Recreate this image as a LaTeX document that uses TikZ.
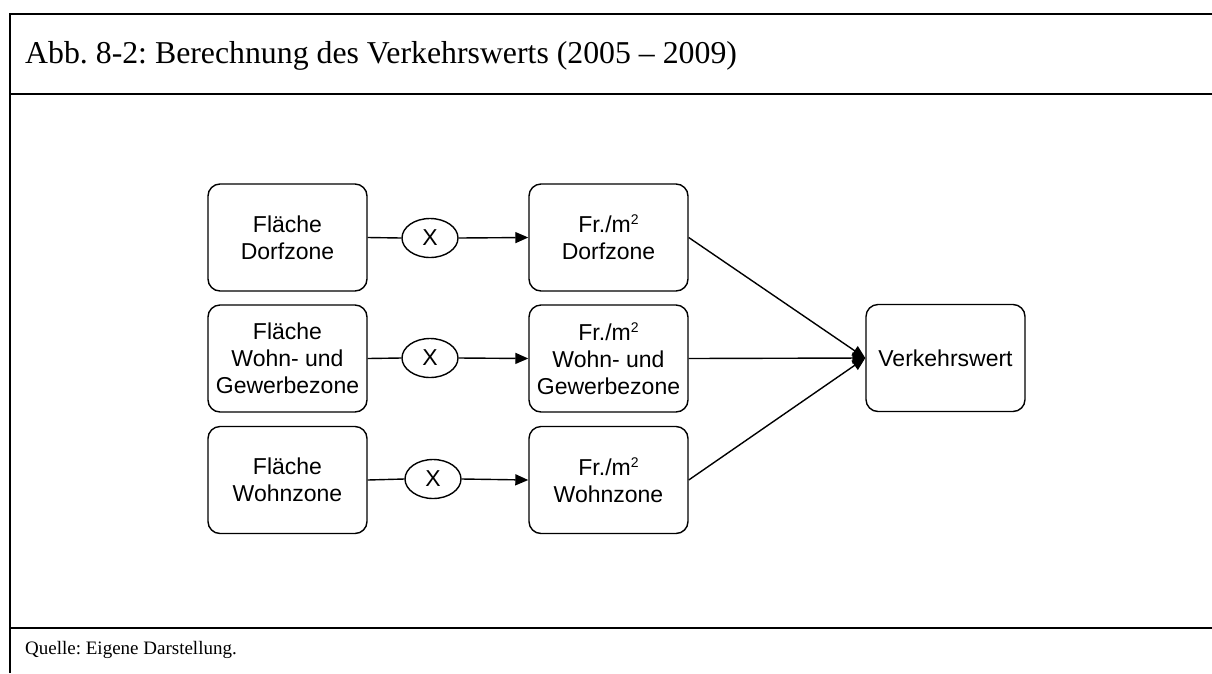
\documentclass[tikz,border=0pt]{standalone}
\usepackage{fontspec}
\setmainfont{Liberation Serif}
\newfontfamily\arialfont{Liberation Sans}
\usetikzlibrary{arrows.meta,shapes.geometric}

\newcommand{\sqm}{m\raisebox{8pt}{\fontsize{14}{14}\selectfont 2}}

\tikzset{
  frameline/.style={line width=2pt},
  box/.style={draw, line width=1.4pt, rounded corners=12pt,
    minimum width=159pt, minimum height=107pt, inner sep=0pt,
    align=center, font=\arialfont\fontsize{23}{27}\selectfont},
  mult/.style={draw, ellipse, line width=1.4pt, minimum width=56pt,
    minimum height=39pt, inner sep=0pt, font=\arialfont\fontsize{23}{27}\selectfont},
  link/.style={line width=1.4pt},
  flow/.style={line width=1.4pt, -{Triangle[length=13pt,width=11pt]}},
}

\begin{document}
\frenchspacing
\begin{tikzpicture}[x=1pt,y=-1pt]
\useasboundingbox (0,0) rectangle (1212,673);

% outer frame with header and source rows
\draw[frameline] (10,673) -- (10,14) -- (1212,14);
\draw[frameline] (10,94) -- (1212,94);
\draw[frameline] (10,628) -- (1212,628);

\node[anchor=base west, inner sep=0pt, font=\fontsize{31.8}{36}\selectfont] (title) at (25,63)
  {Abb. 8-2: Berechnung des Verkehrswerts (2005 -- 2009)};
\node[anchor=base west, inner sep=0pt, font=\fontsize{19}{23}\selectfont] (source) at (25,654)
  {Quelle: Eigene Darstellung.};

% area boxes
\node[box] (a1) at (287.5,237.5) {Fläche\\Dorfzone};
\node[box] (a2) at (287.5,358.5) {Fläche\\Wohn- und\\Gewerbezone};
\node[box] (a3) at (287.5,480) {Fläche\\Wohnzone};

% multiplication signs
\node[mult] (m1) at (430,238) {X};
\node[mult] (m2) at (430,358) {X};
\node[mult] (m3) at (433,479) {X};

% price boxes
\node[box] (p1) at (608.5,237.5) {Fr./\sqm\\Dorfzone};
\node[box] (p2) at (608.5,358.5) {Fr./\sqm\\Wohn- und\\Gewerbezone};
\node[box] (p3) at (608.5,480) {Fr./\sqm\\Wohnzone};

% result
\node[box] (v) at (945.5,358) {Verkehrswert};

\foreach \i in {1,2,3} {
  \draw[link] (a\i.east) -- (m\i.west);
  \draw[flow] (m\i.east) -- (p\i.west);
  \draw[flow] (p\i.east) -- (v.west);
}
\end{tikzpicture}
\end{document}
